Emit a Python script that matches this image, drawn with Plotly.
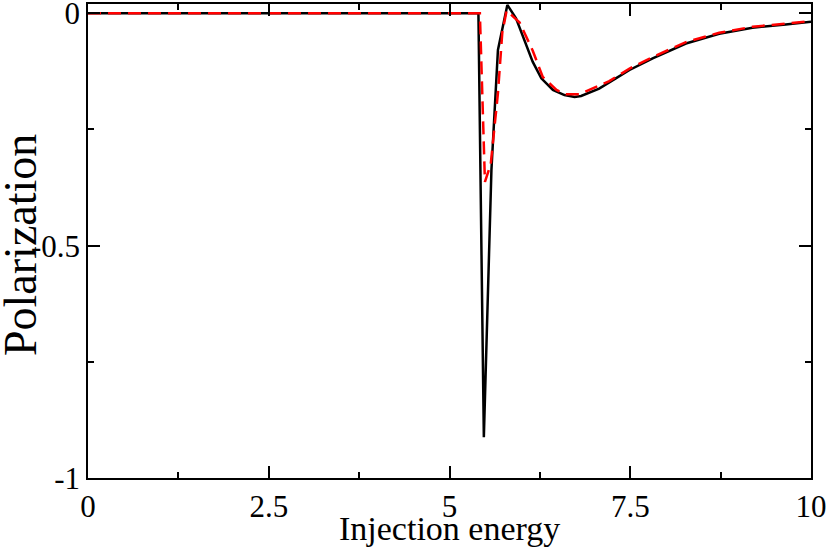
import plotly.graph_objects as go

# Black solid curve
black_x = [0.0, 5.40, 5.475, 5.58, 5.67, 5.80, 5.92, 6.04, 6.15, 6.27, 6.43, 6.59, 6.73, 6.82,
           7.07, 7.30, 7.49, 7.81, 8.27, 8.73, 9.19, 9.65, 10.0]
black_y = [0.0, 0.0, -0.912, -0.337, -0.079, 0.018, -0.011, -0.058, -0.104, -0.140, -0.165, -0.176,
           -0.180, -0.178, -0.162, -0.140, -0.122, -0.097, -0.065, -0.044, -0.031, -0.024, -0.018]

# Red dashed curve
red_x = [0.0, 5.42, 5.49, 5.57, 5.67, 5.73, 5.79, 5.97, 6.15, 6.29, 6.48, 6.61, 6.80, 6.98,
         7.21, 7.49, 7.81, 8.27, 8.73, 9.19, 9.65, 10.0]
red_y = [0.0, 0.0, -0.363, -0.325, -0.172, -0.042, 0.006, -0.020, -0.080, -0.137, -0.165, -0.174,
         -0.174, -0.161, -0.146, -0.119, -0.094, -0.062, -0.042, -0.029, -0.022, -0.017]

x_ticks = [0, 2.5, 5, 7.5, 10]
x_tick_text = ["0", "2.5", "5", "7.5", "10"]
y_ticks = [-1, -0.5, 0]
y_tick_text = ["-1", "-0.5", "0"]

FONT = "Liberation Serif"

fig = go.Figure()
fig.add_trace(go.Scatter(x=black_x, y=black_y, mode="lines",
                         line=dict(color="black", width=2.5), showlegend=False))
fig.add_trace(go.Scatter(x=red_x, y=red_y, mode="lines",
                         line=dict(color="red", width=2.5, dash="13px,7px"), showlegend=False))

axis_common = dict(
    showgrid=False, zeroline=False, showline=True, linecolor="black", linewidth=1.5,
    mirror="allticks", ticks="inside", ticklen=12, tickwidth=1.5, tickcolor="black",
    automargin=False, ticklabeloverflow="allow",
)

fig.update_xaxes(
    range=[0, 10], tickvals=x_ticks, ticktext=x_tick_text,
    tickfont=dict(family=FONT, size=31, color="black"),
    minor=dict(ticks="inside", ticklen=6, tickwidth=1.5, tickcolor="black", dtick=1.25, tick0=0),
    **axis_common,
)
fig.update_yaxes(
    range=[-1, 0.02], tickvals=y_ticks, ticktext=y_tick_text,
    tickfont=dict(family=FONT, size=31, color="black"),
    minor=dict(ticks="inside", ticklen=6, tickwidth=1.5, tickcolor="black", dtick=0.25, tick0=0),
    **axis_common,
)

fig.add_annotation(text="Injection energy", xref="paper", yref="paper", x=0.5, y=0,
                   xanchor="center", yanchor="top", yshift=-30, showarrow=False,
                   font=dict(family=FONT, size=34, color="black"))
fig.add_annotation(text="Polarization", xref="paper", yref="paper", x=0, y=0.5,
                   xanchor="center", yanchor="middle", xshift=-68, yshift=-4, textangle=-90,
                   showarrow=False, font=dict(family=FONT, size=46, color="black"))

fig.update_layout(
    width=830, height=548,
    margin=dict(l=88, r=19, t=4, b=70),
    paper_bgcolor="white", plot_bgcolor="white",
)

fig.write_html("out.html", config={"displayModeBar": False},
               post_script="document.body.style.margin='0';document.body.style.padding='0';"
                           "document.body.style.overflow='hidden';")
